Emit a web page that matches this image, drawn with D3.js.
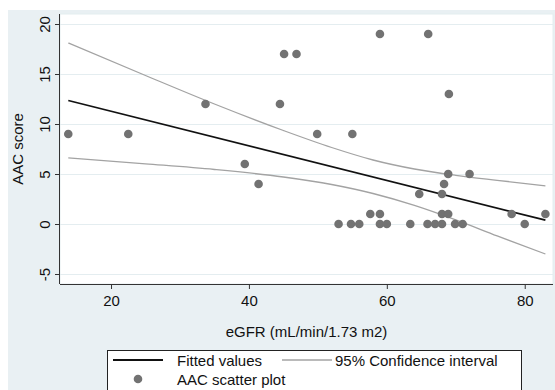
<!DOCTYPE html>
<html>
<head>
<meta charset="utf-8">
<script src="https://cdn.jsdelivr.net/npm/d3@7"></script>
<style>
  html, body { margin: 0; padding: 0; background: #ffffff; }
  svg { display: block; font-family: "Liberation Sans", Arial, sans-serif; }
</style>
</head>
<body>
<svg id="chart" width="555" height="390"></svg>
<script>
// ---- data ----
const egfr = [13.8, 22.5, 33.7, 44.5, 45.1, 46.9, 59, 66, 69, 49.9, 55, 39.4, 41.4,
  68.9, 72, 68.3, 64.7, 68, 57.6, 59, 68, 68.9, 78.1, 83,
  53, 54.8, 56, 59, 60, 63.4, 65.9, 67, 68, 69.9, 71, 80];
const aac = [9, 9, 12, 12, 17, 17, 19, 19, 13, 9, 9, 6, 4,
  5, 5, 4, 3, 3, 1, 1, 1, 1, 1, 1,
  0, 0, 0, 0, 0, 0, 0, 0, 0, 0, 0, 0];

const fitX = [13.8, 83];
const fitY = [12.35, 0.38];

const ciX = [13.8, 25, 35, 45, 52, 58, 64, 70, 76, 83];
const ciUpperY = [18.1, 14.85, 12.0, 9.35, 7.65, 6.4, 5.5, 4.87, 4.37, 3.82];
const ciLowerY = [6.62, 6.02, 5.45, 4.7, 3.95, 3.05, 1.86, 0.41, -1.19, -3.0];

const xTicks = [20, 40, 60, 80];
const yTicks = [-5, 0, 5, 10, 15, 20];

const xTitle = "eGFR (mL/min/1.73 m2)";
const yTitle = "AAC score";
const legendLabels = ["Fitted values", "95% Confidence interval", "AAC scatter plot"];

// ---- drawing ----
const svg = d3.select("#chart");
const bg = "#e9f0f3";
const grid = "#e4edf0";

const L = 60, R = 553, T = 14, B = 284;
const x = d3.scaleLinear().domain([12.6, 84.1]).range([L, R]);
const y = d3.scaleLinear().domain([-6, 21]).range([B, T]);

// outer graph region
svg.append("rect").attr("x", 8).attr("y", 10).attr("width", 560).attr("height", 400).attr("fill", bg);
// plot region
svg.append("rect").attr("x", L).attr("y", T).attr("width", R - L).attr("height", B - T)
  .attr("fill", "#ffffff").attr("stroke", grid).attr("stroke-width", 1);

// gridlines
svg.append("g").selectAll("line").data(yTicks).join("line")
  .attr("x1", L).attr("x2", R)
  .attr("y1", d => y(d) + 0.5).attr("y2", d => y(d) + 0.5)
  .attr("stroke", grid).attr("stroke-width", 1.2);

// axes
const fmt = d => String(d);
const xAxis = d3.axisBottom(x).tickValues(xTicks).tickSize(5).tickPadding(6).tickFormat(fmt);
const gx = svg.append("g").attr("transform", `translate(0,${B})`).call(xAxis);
gx.select(".domain").attr("stroke", "#333").attr("d", `M${L},0.5H${R}`);
gx.selectAll(".tick line").attr("stroke", "#333");
gx.selectAll(".tick text").attr("font-size", 15).attr("fill", "#111")
  .attr("font-family", "Liberation Sans, Arial, sans-serif");

const yAxis = d3.axisLeft(y).tickValues(yTicks).tickSize(5).tickFormat(fmt);
const gy = svg.append("g").attr("transform", `translate(${L},0)`).call(yAxis);
gy.select(".domain").attr("stroke", "#333").attr("d", `M-0.5,${T}V${B}`);
gy.selectAll(".tick line").attr("stroke", "#333");
gy.selectAll(".tick text")
  .attr("font-size", 15).attr("fill", "#111")
  .attr("font-family", "Liberation Sans, Arial, sans-serif")
  .attr("text-anchor", "middle")
  .attr("x", 0).attr("dy", 0)
  .attr("transform", "translate(-10,0) rotate(-90)");

// titles
svg.append("text").attr("x", (L + R) / 2).attr("y", 337).attr("text-anchor", "middle")
  .attr("font-size", 15).attr("fill", "#111").text(xTitle);
svg.append("text").attr("transform", `translate(23,${(T + B) / 2}) rotate(-90)`)
  .attr("text-anchor", "middle").attr("font-size", 15).attr("fill", "#111").text(yTitle);

// lines
const line = d3.line().x(d => x(d[0])).y(d => y(d[1])).curve(d3.curveMonotoneX);
svg.append("path").datum(ciX.map((v, i) => [v, ciUpperY[i]]))
  .attr("d", line).attr("fill", "none").attr("stroke", "#a3a3a3").attr("stroke-width", 1.3);
svg.append("path").datum(ciX.map((v, i) => [v, ciLowerY[i]]))
  .attr("d", line).attr("fill", "none").attr("stroke", "#a3a3a3").attr("stroke-width", 1.3);
svg.append("path").datum(fitX.map((v, i) => [v, fitY[i]]))
  .attr("d", d3.line().x(d => x(d[0])).y(d => y(d[1])))
  .attr("fill", "none").attr("stroke", "#111").attr("stroke-width", 1.8);

// points
svg.append("g").selectAll("circle").data(egfr.map((v, i) => [v, aac[i]])).join("circle")
  .attr("cx", d => x(d[0])).attr("cy", d => y(d[1])).attr("r", 4.3)
  .attr("fill", "#727272");

// legend
const lg = svg.append("g");
lg.append("rect").attr("x", 107.5).attr("y", 350.5).attr("width", 414).attr("height", 60)
  .attr("fill", "#ffffff").attr("stroke", "#222").attr("stroke-width", 1);
lg.append("line").attr("x1", 113).attr("x2", 163).attr("y1", 360).attr("y2", 360)
  .attr("stroke", "#111").attr("stroke-width", 1.8);
lg.append("text").attr("x", 177).attr("y", 365.5).attr("font-size", 15).attr("fill", "#111").text(legendLabels[0]);
lg.append("line").attr("x1", 282).attr("x2", 332).attr("y1", 360).attr("y2", 360)
  .attr("stroke", "#a3a3a3").attr("stroke-width", 1.3);
lg.append("text").attr("x", 335).attr("y", 365.5).attr("font-size", 15).attr("fill", "#111").text(legendLabels[1]);
lg.append("circle").attr("cx", 138).attr("cy", 379).attr("r", 4.3).attr("fill", "#727272");
lg.append("text").attr("x", 177).attr("y", 384.5).attr("font-size", 15).attr("fill", "#111").text(legendLabels[2]);
</script>
</body>
</html>
